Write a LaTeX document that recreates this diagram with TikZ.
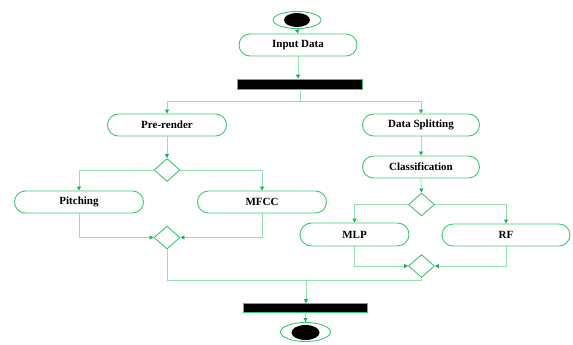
\documentclass[tikz,border=0pt]{standalone}
\usepackage{fontspec}
\setmainfont{Liberation Serif}
\usetikzlibrary{shapes.geometric,shapes.misc,arrows.meta}
\definecolor{edgeg}{RGB}{60,200,115}
\definecolor{lineg}{RGB}{150,225,180}
\definecolor{tipg}{RGB}{30,175,90}
\begin{document}
\begin{tikzpicture}[x=1pt,y=-1pt,
  act/.style={draw=edgeg,line width=0.9pt,rounded rectangle,minimum height=22pt,inner sep=0pt,font=\fontsize{11}{13}\selectfont\bfseries},
  dec/.style={draw=edgeg,line width=0.9pt,diamond,minimum width=26pt,minimum height=23pt,inner sep=0pt},
  bar/.style={draw=edgeg,fill=black,line width=0.6pt,rectangle,inner sep=0pt},
  conn/.style={draw=lineg,line width=0.8pt},
  arr/.style={conn,-{Triangle[length=4pt,width=4pt,color=tipg]}}]
\useasboundingbox (0,0) rectangle (573,345);
% start
\node[draw=edgeg,line width=0.9pt,ellipse,minimum width=48pt,minimum height=17pt,inner sep=0pt] (start) at (297,20) {};
\fill[black] (297,20) ellipse [x radius=13pt,y radius=7pt];
\node[act,minimum width=118pt] (input) at (298,45) {Input Data};
\node[bar,minimum width=125pt,minimum height=10pt] (fork) at (300,84) {};
\node[act,minimum width=119pt] (pre) at (167,125) {Pre-render};
\node[act,minimum width=117pt] (split) at (421,125) {Data Splitting};
\node[act,minimum width=117pt] (cls) at (421,167) {Classification};
\node[dec] (d1) at (167,170) {};
\node[act,minimum width=129pt] (pitch) at (79,202) {Pitching};
\node[act,minimum width=129pt] (mfcc) at (262,202) {MFCC};
\node[dec] (d2) at (167,237.5) {};
\node[dec] (d3) at (421.5,204.5) {};
\node[act,minimum width=109pt,minimum height=23pt] (mlp) at (354.5,234.5) {MLP};
\node[act,minimum width=128pt,minimum height=22pt] (rf) at (506,235) {RF};
\node[dec] (d4) at (421.5,266) {};
\node[bar,minimum width=124pt,minimum height=9pt] (join) at (305.5,308) {};
\node[draw=edgeg,line width=0.9pt,ellipse,minimum width=50pt,minimum height=19pt,inner sep=0pt] (end) at (305.5,332) {};
\fill[black] (305.5,332.5) ellipse [x radius=14pt,y radius=7.5pt];
\coordinate (f1) at (300,101);
\coordinate (m1) at (306,280);
% connectors
\draw[arr] (start.south) -- (input.north);
\draw[arr] (input.south) -- (input.south |- fork.north);
\draw[conn] (fork.south) -- (f1);
\draw[arr] (f1) -| (pre.north);
\draw[arr] (f1) -| (split.north);
\draw[arr] (split.south) -- (cls.north);
\draw[arr] (pre.south) -- (d1.north);
\draw[arr] (d1.west) -| (pitch.north);
\draw[arr] (d1.east) -| (mfcc.north);
\draw[arr] (pitch.south) |- (d2.west);
\draw[arr] (mfcc.south) |- (d2.east);
\draw[arr] (cls.south) -- (d3.north);
\draw[arr] (d3.west) -| (mlp.north);
\draw[arr] (d3.east) -| (rf.north);
\draw[arr] (mlp.south) |- (d4.west);
\draw[arr] (rf.south) |- (d4.east);
\draw[conn] (d2.south) |- (m1);
\draw[conn] (d4.south) |- (m1);
\draw[arr] (m1) -- (m1 |- join.north);
\draw[arr] (join.south -| end.north) -- (end.north);
\end{tikzpicture}
\end{document}
